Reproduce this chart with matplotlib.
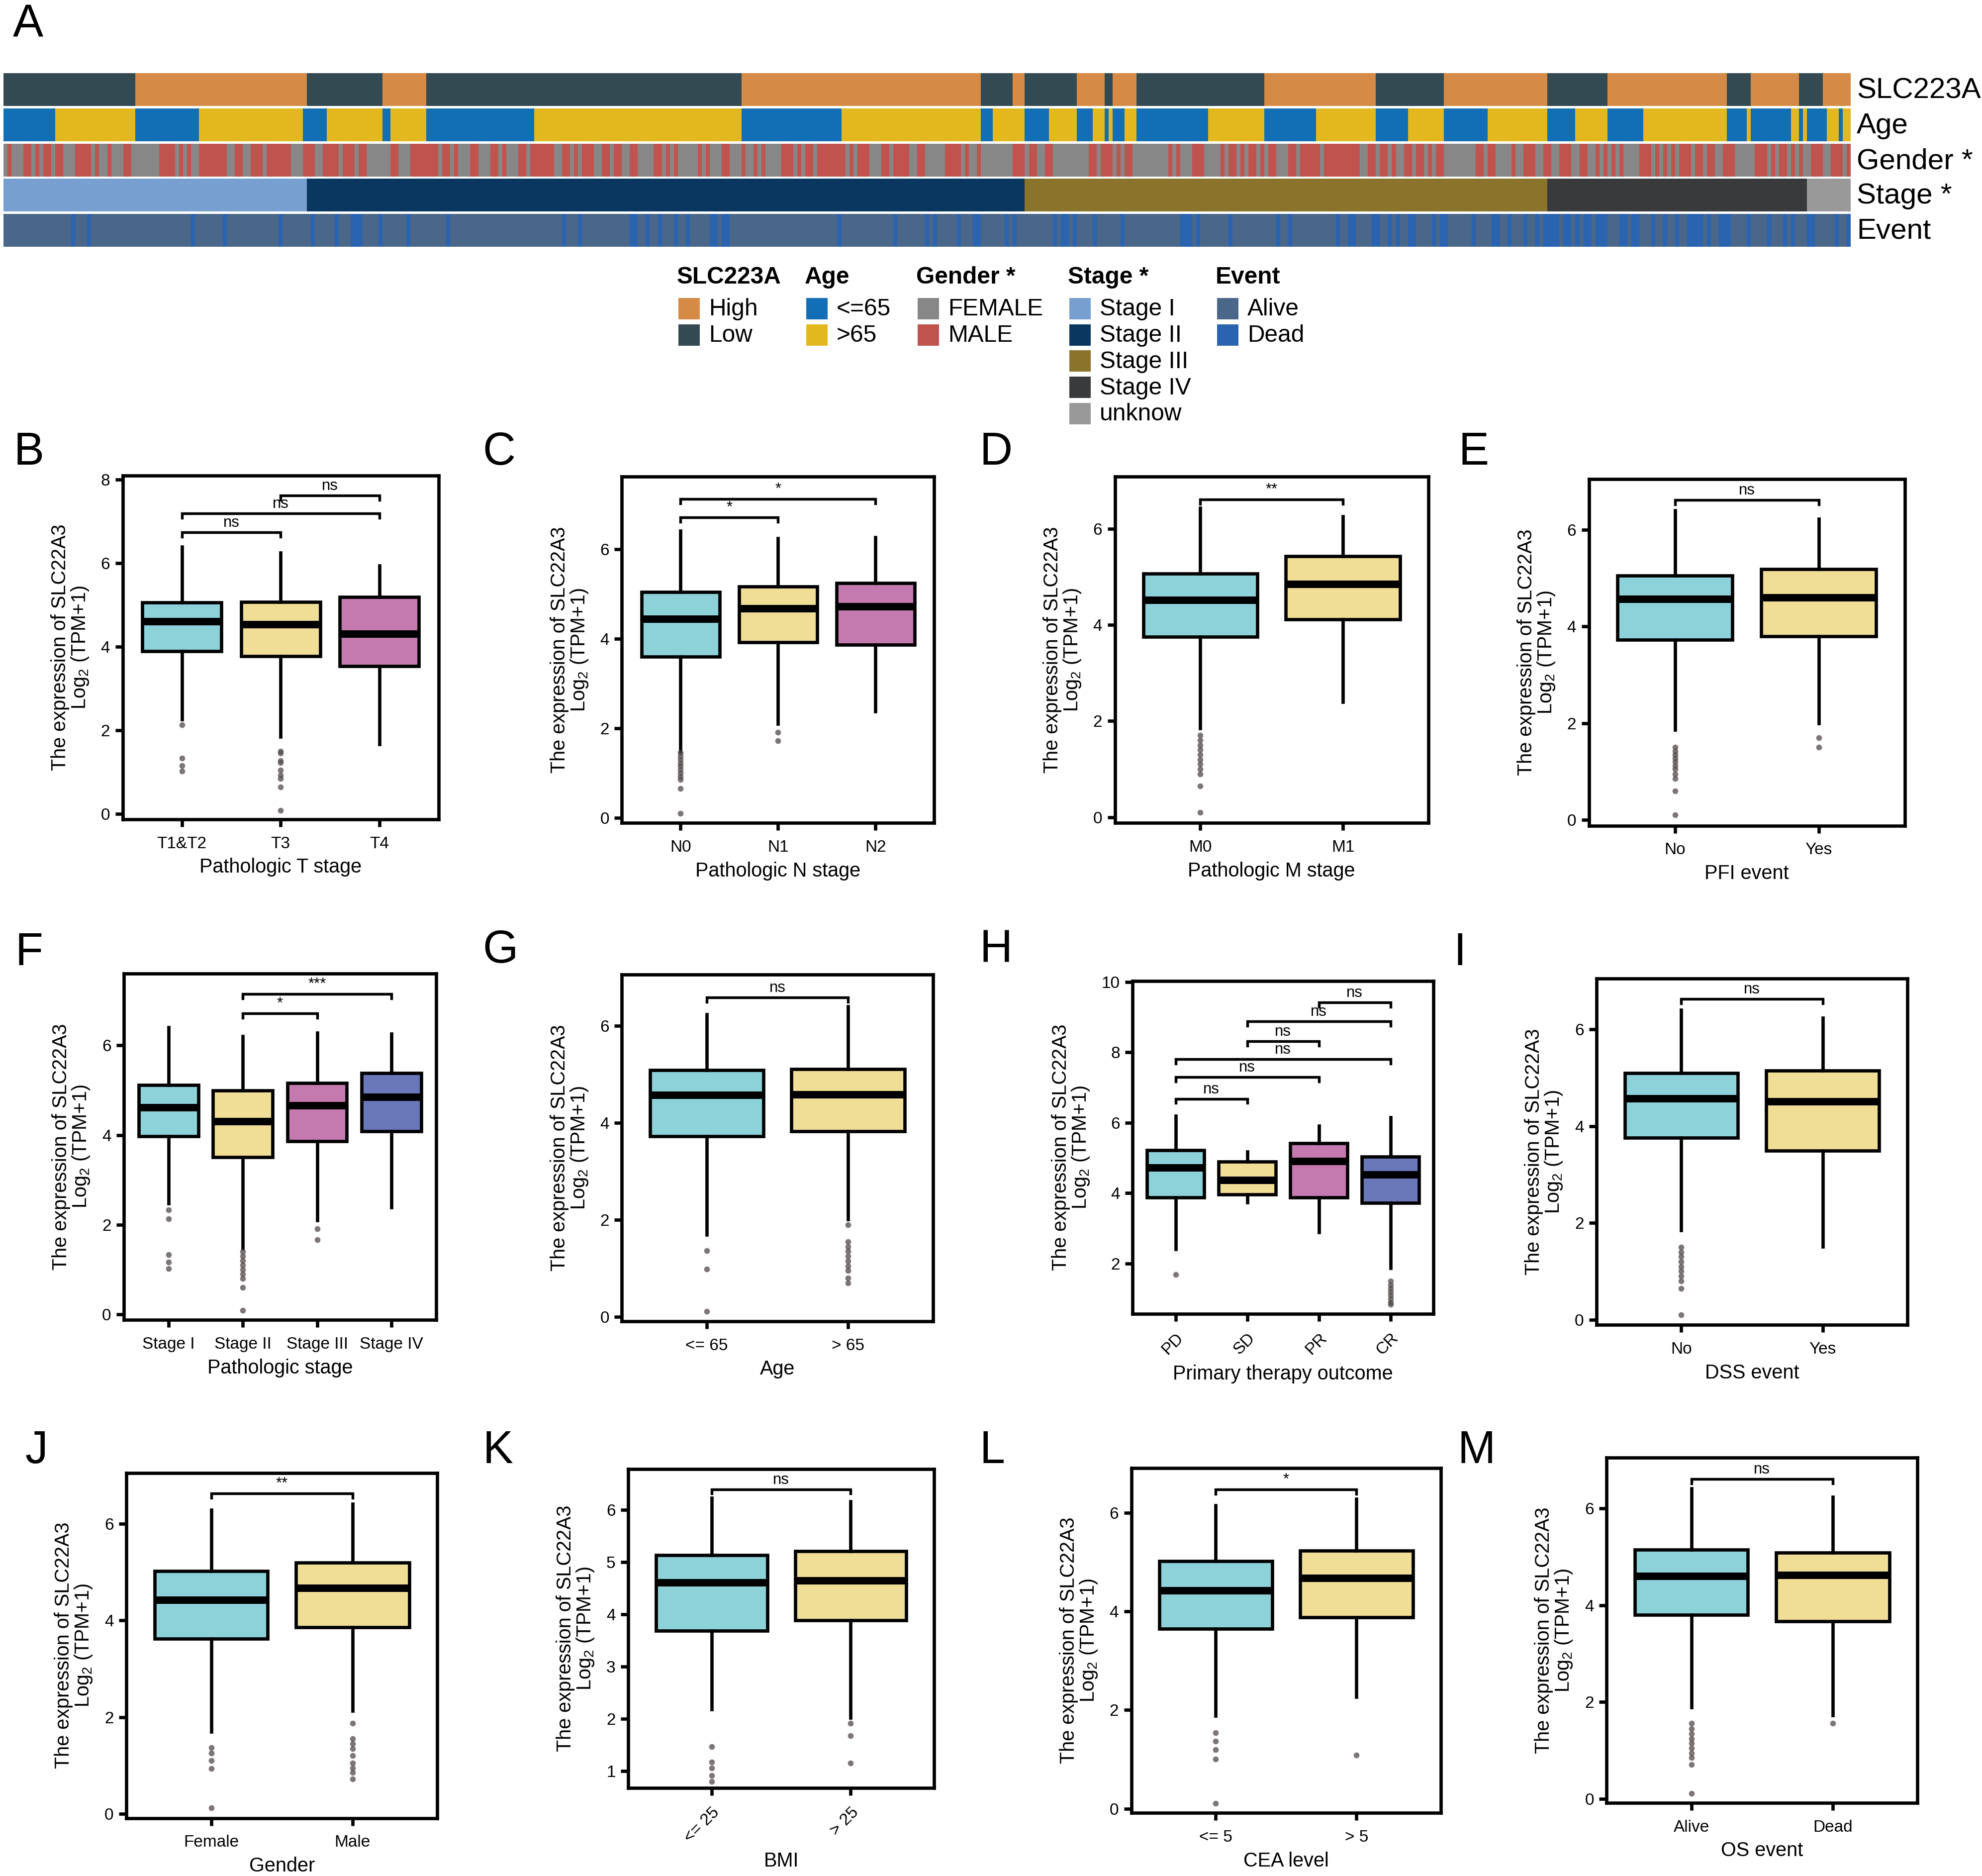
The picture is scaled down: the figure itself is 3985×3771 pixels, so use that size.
import numpy as np
import matplotlib
matplotlib.use('Agg')
import matplotlib.pyplot as plt
from matplotlib.colors import to_rgb
from matplotlib.patches import Rectangle

plt.rcParams['font.family'] = ['Liberation Sans', 'DejaVu Sans']
plt.rcParams['mathtext.fontset'] = 'custom'
plt.rcParams['mathtext.rm'] = 'Liberation Sans'
plt.rcParams['mathtext.it'] = 'Liberation Sans:italic'
plt.rcParams['mathtext.bf'] = 'Liberation Sans:bold'

# ---------------- panel A: annotation tracks (samples sorted by stage) ----------------
STAGE_RUNS = [('Stage I', 76), ('Stage II', 180), ('Stage III', 131), ('Stage IV', 65), ('unknow', 11)]
SLC_RUNS = [('Low', 33), ('High', 43), ('Low', 19), ('High', 11), ('Low', 79), ('High', 60),
            ('Low', 8), ('High', 3), ('Low', 13), ('High', 7), ('Low', 2), ('High', 6),
            ('Low', 32), ('High', 28), ('Low', 17), ('High', 26), ('Low', 15), ('High', 30),
            ('Low', 6), ('High', 12), ('Low', 6), ('High', 7)]
AGE_RUNS = [('<=65', 13), ('>65', 20), ('<=65', 16), ('>65', 26), ('<=65', 6), ('>65', 14),
            ('<=65', 2), ('>65', 9), ('<=65', 27), ('>65', 52), ('<=65', 25), ('>65', 35),
            ('<=65', 3), ('>65', 8), ('<=65', 6), ('>65', 7), ('<=65', 4), ('>65', 3),
            ('<=65', 1), ('>65', 1), ('<=65', 3), ('>65', 3), ('<=65', 18), ('>65', 14),
            ('<=65', 13), ('>65', 15), ('<=65', 8), ('>65', 9), ('<=65', 11), ('>65', 15),
            ('<=65', 7), ('>65', 8), ('<=65', 9), ('>65', 21), ('<=65', 5), ('>65', 1),
            ('<=65', 10), ('>65', 2), ('<=65', 1), ('>65', 1), ('<=65', 5), ('>65', 3),
            ('<=65', 1), ('>65', 2)]
# sample index ranges [start, stop) that are MALE (rest FEMALE)
MALE_RANGES = [(1, 2), (5, 7), (8, 9), (10, 12), (13, 15), (18, 22), (23, 24), (26, 27), (30, 32),
               (39, 43), (44, 45), (46, 47), (49, 56), (58, 60), (62, 65), (66, 72), (75, 78),
               (80, 84), (85, 88), (89, 91), (97, 99), (102, 109), (110, 112), (113, 114),
               (117, 119), (122, 124), (125, 126), (129, 131), (132, 138), (140, 142), (143, 144),
               (145, 148), (150, 152), (153, 155), (157, 159), (163, 165), (166, 167), (168, 169),
               (174, 175), (176, 177), (180, 182), (185, 186), (188, 189), (190, 191), (195, 198),
               (199, 200), (201, 203), (204, 211), (212, 213), (214, 217), (220, 222), (223, 227),
               (229, 231), (236, 240), (241, 242), (244, 245), (253, 256), (257, 259), (261, 263),
               (272, 274), (275, 278), (279, 280), (281, 283), (292, 293), (294, 295), (298, 301),
               (305, 306), (307, 309), (310, 311), (312, 314), (315, 316), (317, 319), (322, 324),
               (325, 330), (331, 340), (342, 344), (345, 347), (348, 349), (351, 353), (354, 356),
               (357, 358), (359, 361), (369, 371), (372, 374), (378, 379), (381, 384), (386, 388),
               (390, 393), (395, 397), (399, 400), (401, 402), (403, 404), (405, 406), (410, 413),
               (414, 415), (416, 417), (418, 419), (420, 423), (424, 426), (427, 429), (431, 434),
               (439, 442), (443, 444), (445, 447), (448, 449), (450, 451), (453, 456), (458, 461),
               (462, 463)]
# sample index ranges that are Dead (rest Alive)
DEAD_RANGES = [(17, 18), (21, 22), (47, 48), (55, 56), (69, 70), (77, 78), (83, 84), (87, 90),
               (94, 95), (101, 102), (111, 112), (140, 141), (144, 145), (157, 159), (161, 162),
               (164, 165), (168, 169), (171, 172), (177, 179), (180, 182), (209, 210), (223, 224),
               (231, 232), (233, 234), (239, 240), (243, 245), (251, 252), (253, 254), (263, 264),
               (265, 267), (268, 269), (273, 274), (280, 281), (295, 298), (299, 300), (307, 308),
               (319, 320), (322, 323), (334, 335), (337, 339), (343, 345), (347, 348), (349, 350),
               (352, 354), (358, 359), (360, 362), (368, 369), (373, 375), (377, 378), (381, 382),
               (384, 385), (386, 390), (391, 393), (394, 395), (396, 398), (399, 402), (405, 407),
               (408, 410), (413, 414), (416, 417), (419, 420), (422, 426), (427, 428), (430, 433),
               (437, 438), (442, 443), (446, 447), (448, 449), (452, 454), (459, 460), (462, 463)]

SLC_COLORS = {'High': '#D58B45', 'Low': '#344A52'}
AGE_COLORS = {'<=65': '#126EB5', '>65': '#E2B81E'}
GENDER_COLORS = {'FEMALE': '#878787', 'MALE': '#C0534D'}
STAGE_COLORS = {'Stage I': '#779FD0', 'Stage II': '#093760', 'Stage III': '#8A742B',
                'Stage IV': '#393A3C', 'unknow': '#999999'}
EVENT_COLORS = {'Alive': '#4A6688', 'Dead': '#2A63B0'}

# ---------------- panels B-M: box statistics [whislo, q1, med, q3, whishi] ----------------
B_CATS = ['T1&T2', 'T3', 'T4']
B_BOX = [[2.26, 3.89, 4.61, 5.06, 6.39], [1.85, 3.77, 4.54, 5.07, 6.25], [1.67, 3.53, 4.31, 5.19, 5.94]]
B_OUT = [[2.13, 1.33, 1.16, 1.02], [1.5, 1.45, 1.27, 1.22, 1.05, 0.93, 0.85, 0.64, 0.08], []]
B_SIG = [(1, 2, 6.74, 'ns'), (1, 3, 7.19, 'ns'), (2, 3, 7.62, 'ns')]

C_CATS = ['N0', 'N1', 'N2']
C_BOX = [[1.47, 3.6, 4.44, 5.04, 6.41], [2.1, 3.92, 4.68, 5.17, 6.24], [2.38, 3.86, 4.72, 5.24, 6.27]]
C_OUT = [[1.45, 1.38, 1.3, 1.22, 1.15, 1.08, 1.0, 0.92, 0.85, 0.65, 0.1], [1.91, 1.72], []]
C_SIG = [(1, 2, 6.71, '*'), (1, 3, 7.12, '*')]

D_CATS = ['M0', 'M1']
D_BOX = [[1.85, 3.75, 4.52, 5.06, 6.43], [2.4, 4.11, 4.85, 5.43, 6.25]]
D_OUT = [[1.7, 1.6, 1.5, 1.4, 1.3, 1.2, 1.1, 1.0, 0.9, 0.65, 0.1], []]
D_SIG = [(1, 2, 6.61, '**')]

E_CATS = ['No', 'Yes']
E_BOX = [[1.86, 3.73, 4.57, 5.05, 6.4], [2.0, 3.8, 4.6, 5.19, 6.23]]
E_OUT = [[1.5, 1.42, 1.35, 1.28, 1.2, 1.12, 1.05, 0.95, 0.85, 0.6, 0.1], [1.7, 1.5]]
E_SIG = [(1, 2, 6.62, 'ns')]

F_CATS = ['Stage I', 'Stage II', 'Stage III', 'Stage IV']
F_BOX = [[2.48, 3.97, 4.62, 5.12, 6.4], [1.47, 3.51, 4.31, 4.99, 6.2],
         [2.1, 3.86, 4.66, 5.16, 6.28], [2.39, 4.08, 4.85, 5.38, 6.26]]
F_OUT = [[2.33, 2.13, 1.34, 1.17, 1.02], [1.4, 1.3, 1.2, 1.1, 1.0, 0.9, 0.8, 0.6, 0.09], [1.91, 1.67], []]
F_SIG = [(2, 3, 6.71, '*'), (2, 4, 7.14, '***')]

G_CATS = ['<= 65', '> 65']
G_BOX = [[1.69, 3.72, 4.57, 5.09, 6.23], [2.01, 3.82, 4.58, 5.11, 6.4]]
G_OUT = [[1.36, 0.98, 0.11], [1.9, 1.55, 1.45, 1.35, 1.25, 1.15, 1.05, 0.95, 0.8, 0.7]]
G_SIG = [(1, 2, 6.58, 'ns')]

H_CATS = ['PD', 'SD', 'PR', 'CR']
H_BOX = [[2.41, 3.88, 4.73, 5.22, 6.19], [3.74, 3.96, 4.37, 4.89, 5.18],
         [2.89, 3.88, 4.91, 5.42, 5.91], [1.87, 3.72, 4.53, 5.03, 6.15]]
H_OUT = [[1.69], [], [], [1.5, 1.4, 1.3, 1.2, 1.1, 1.0, 0.9, 0.84]]
H_SIG = [(1, 2, 6.68, 'ns'), (1, 3, 7.29, 'ns'), (1, 4, 7.8, 'ns'),
         (2, 3, 8.31, 'ns'), (2, 4, 8.88, 'ns'), (3, 4, 9.41, 'ns')]

I_CATS = ['No', 'Yes']
I_BOX = [[1.85, 3.76, 4.57, 5.1, 6.4], [1.51, 3.49, 4.51, 5.15, 6.24]]
I_OUT = [[1.5, 1.4, 1.3, 1.2, 1.1, 1.0, 0.9, 0.8, 0.65, 0.1], []]
I_SIG = [(1, 2, 6.63, 'ns')]

J_CATS = ['Female', 'Male']
J_BOX = [[1.7, 3.62, 4.42, 5.02, 6.29], [2.13, 3.86, 4.67, 5.2, 6.41]]
J_OUT = [[1.37, 1.25, 1.1, 0.93, 0.12], [1.87, 1.55, 1.45, 1.35, 1.2, 1.05, 0.95, 0.85, 0.72]]
J_SIG = [(1, 2, 6.63, '**')]

K_CATS = ['<= 25', '> 25']
K_BOX = [[2.18, 3.69, 4.61, 5.13, 6.23], [2.02, 3.89, 4.65, 5.21, 6.16]]
K_OUT = [[1.47, 1.17, 1.06, 0.91, 0.8], [1.91, 1.68, 1.15]]
K_SIG = [(1, 2, 6.39, 'ns')]

L_CATS = ['<= 5', '> 5']
L_BOX = [[1.88, 3.65, 4.42, 5.02, 6.15], [2.27, 3.88, 4.68, 5.23, 6.28]]
L_OUT = [[1.54, 1.37, 1.2, 1.0, 0.11], [1.08]]
L_SIG = [(1, 2, 6.47, '*')]

M_CATS = ['Alive', 'Dead']
M_BOX = [[1.89, 3.8, 4.6, 5.14, 6.41], [1.73, 3.67, 4.62, 5.08, 6.23]]
M_OUT = [[1.56, 1.45, 1.35, 1.25, 1.15, 1.05, 0.95, 0.85, 0.71, 0.12], [1.56]]
M_SIG = [(1, 2, 6.6, 'ns')]

FILLS = ['#8DD1D9', '#F0DD96', '#C47AAF', '#6A78BA']

# ---------------- figure ----------------
W, H = 3985, 3771
S = W / 1568.0   # layout measured on the 1568 px preview
fig = plt.figure(figsize=(W / 300, H / 300), dpi=300)


def fpos(x0, y0, x1, y1):
    return [x0 / W, 1 - y1 / H, (x1 - x0) / W, (y1 - y0) / H]


# overlay in pixel units for legend / letters
ov = fig.add_axes([0, 0, 1, 1])
ov.set_xlim(0, W)
ov.set_ylim(H, 0)
ov.set_axis_off()

N = sum(n for _, n in STAGE_RUNS)


def expand(runs):
    return [lab for lab, n in runs for _ in range(n)]


def from_ranges(ranges, on, off):
    lab = [off] * N
    for a, b in ranges:
        for i in range(a, b):
            lab[i] = on
    return lab


tracks = [('SLC223A', expand(SLC_RUNS), SLC_COLORS),
          ('Age', expand(AGE_RUNS), AGE_COLORS),
          ('Gender *', from_ranges(MALE_RANGES, 'MALE', 'FEMALE'), GENDER_COLORS),
          ('Stage *', expand(STAGE_RUNS), STAGE_COLORS),
          ('Event', from_ranges(DEAD_RANGES, 'Dead', 'Alive'), EVENT_COLORS)]
track_y = [(147, 213), (218, 284), (289, 355), (359, 425), (430, 496)]
for (name, labs, cmap), (y0, y1) in zip(tracks, track_y):
    ax = fig.add_axes(fpos(7, y0, 3720, y1))
    rgb = np.array([[to_rgb(cmap[l]) for l in labs]])
    ax.imshow(rgb, aspect='auto', interpolation='nearest', extent=(0, N, 0, 1))
    ax.set_axis_off()
    ov.text(3733, (y0 + y1) / 2 + 2, name, fontsize=14, va='center', ha='left')

# legend
legend_groups = [('SLC223A', SLC_COLORS, 1364), ('Age', AGE_COLORS, 1621),
                 ('Gender *', GENDER_COLORS, 1845), ('Stage *', STAGE_COLORS, 2150),
                 ('Event', EVENT_COLORS, 2447)]
for title, cmap, x in legend_groups:
    ov.text(x - 3, 570, title, fontsize=11.5, fontweight='bold', va='baseline', ha='left')
    for k, (lab, col) in enumerate(cmap.items()):
        top = 599 + 52.7 * k
        ov.add_patch(Rectangle((x, top), 43, 43, facecolor=col, edgecolor='none'))
        ov.text(x + 61, top + 23, lab, fontsize=11.5, va='center', ha='left')

ov.text(10 * S, 3 * S, 'A', fontsize=22, va='top', ha='left')

# ---------------- box plot panels ----------------
panels = [
    ('B', (97, 376, 347, 648), B_CATS, B_BOX, B_OUT, B_SIG, (-0.13, 8.1), [0, 2, 4, 6, 8], 'Pathologic T stage', 0, (11, 341)),
    ('C', (492, 377, 739, 651), C_CATS, C_BOX, C_OUT, C_SIG, (-0.12, 7.62), [0, 2, 4, 6], 'Pathologic N stage', 0, (382, 341)),
    ('D', (882, 377, 1130, 651), D_CATS, D_BOX, D_OUT, D_SIG, (-0.12, 7.08), [0, 2, 4, 6], 'Pathologic M stage', 0, (775, 341)),
    ('E', (1257, 379, 1507, 653), E_CATS, E_BOX, E_OUT, E_SIG, (-0.12, 7.05), [0, 2, 4, 6], 'PFI event', 0, (1154, 341)),
    ('F', (98, 770, 345, 1044), F_CATS, F_BOX, F_OUT, F_SIG, (-0.12, 7.6), [0, 2, 4, 6], 'Pathologic stage', 0, (12, 737)),
    ('G', (492, 771, 738, 1045), G_CATS, G_BOX, G_OUT, G_SIG, (-0.09, 7.05), [0, 2, 4, 6], 'Age', 0, (382, 735)),
    ('H', (896, 776, 1134, 1039), H_CATS, H_BOX, H_OUT, H_SIG, (0.58, 10.02), [2, 4, 6, 8, 10], 'Primary therapy outcome', 45, (775, 735)),
    ('I', (1263, 774, 1509, 1048), I_CATS, I_BOX, I_OUT, I_SIG, (-0.11, 7.05), [0, 2, 4, 6], 'DSS event', 0, (1150, 737)),
    ('J', (100, 1165, 346, 1438), J_CATS, J_BOX, J_OUT, J_SIG, (-0.09, 7.05), [0, 2, 4, 6], 'Gender', 0, (20, 1131)),
    ('K', (497, 1162, 739, 1414), K_CATS, K_BOX, K_OUT, K_SIG, (0.68, 6.78), [1, 2, 3, 4, 5, 6], 'BMI', 45, (382, 1131)),
    ('L', (895, 1161, 1140, 1434), L_CATS, L_BOX, L_OUT, L_SIG, (-0.09, 6.91), [0, 2, 4, 6], 'CEA level', 0, (775, 1131)),
    ('M', (1271, 1153, 1517, 1426), M_CATS, M_BOX, M_OUT, M_SIG, (-0.08, 7.04), [0, 2, 4, 6], 'OS event', 0, (1153, 1131)),
]

LW = 1.6
for letter, box, cats, stats_in, outs, sigs, ylim, yticks, xlabel, rot, lpos in panels:
    x0, y0, x1, y1 = [v * S for v in box]
    ax = fig.add_axes(fpos(x0, y0, x1, y1))
    n = len(cats)
    stats = [dict(whislo=b[0], q1=b[1], med=b[2], q3=b[3], whishi=b[4], fliers=o)
             for b, o in zip(stats_in, outs)]
    bp = ax.bxp(stats, positions=list(range(1, n + 1)), widths=0.8, patch_artist=True,
                showcaps=False,
                boxprops=dict(linewidth=LW, edgecolor='black'),
                medianprops=dict(color='black', linewidth=3.6, solid_capstyle='butt'),
                whiskerprops=dict(linewidth=LW, color='black'),
                flierprops=dict(marker='o', markersize=2.8, markerfacecolor='#524848',
                                markeredgecolor='none', alpha=0.75))
    for patch, col in zip(bp['boxes'], FILLS):
        patch.set_facecolor(col)
    rng = ylim[1] - ylim[0]
    tip = 0.013 * rng
    for a, b, yv, lab in sigs:
        ax.plot([a, a, b, b], [yv - tip, yv, yv, yv - tip], color='black', lw=1.3,
                solid_joinstyle='miter')
        ax.text((a + b) / 2, yv + 0.006 * rng, lab, ha='center', va='bottom', fontsize=7.5)
    ax.set_xlim(0.4, n + 0.6)
    ax.set_ylim(*ylim)
    ax.set_yticks(yticks)
    ax.set_xticks(list(range(1, n + 1)))
    if rot:
        ax.set_xticklabels(cats, rotation=45, ha='right', rotation_mode='anchor')
    else:
        ax.set_xticklabels(cats)
    for sp in ax.spines.values():
        sp.set_linewidth(LW)
    ax.tick_params(length=3.6, width=LW, labelsize=8, colors='black')
    ax.tick_params(axis='x', pad=4.5)
    ax.tick_params(axis='y', pad=2.5)
    ax.set_xlabel(xlabel, fontsize=9.5, labelpad=3)
    ax.set_ylabel('The expression of SLC22A3\nLog$_{2}$ (TPM+1)', fontsize=9.5,
                  linespacing=1.0, labelpad=5)
    ov.text(lpos[0] * S, lpos[1] * S, letter, fontsize=22, va='top', ha='left')

fig.savefig('out.png', dpi=300)
